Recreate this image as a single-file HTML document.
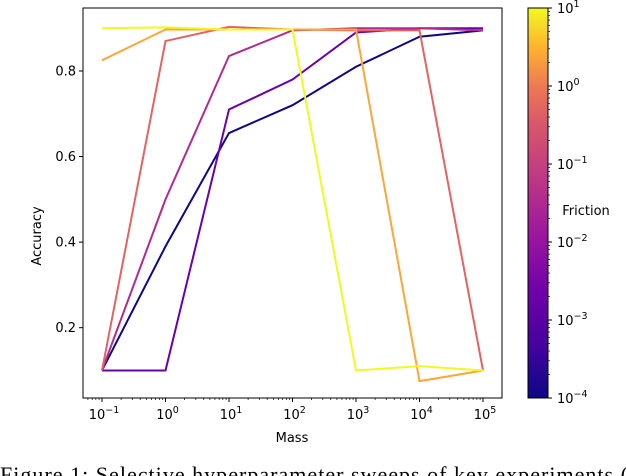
<!DOCTYPE html>
<html><head><meta charset="utf-8"><style>
body{margin:0;background:#fff;width:626px;height:476px;overflow:hidden;position:relative}
svg{position:absolute;left:0;top:0}
text{font-family:"DejaVu Sans","Liberation Sans",sans-serif;fill:#000}
</style></head><body>
<svg width="626" height="476">
<defs><linearGradient id="pl" x1="0" y1="1" x2="0" y2="0">
<stop offset="0" stop-color="#0d0887"/><stop offset="0.14" stop-color="#46039f"/><stop offset="0.28" stop-color="#7201a8"/><stop offset="0.42" stop-color="#9c179e"/><stop offset="0.56" stop-color="#bd3786"/><stop offset="0.70" stop-color="#d8576b"/><stop offset="0.80" stop-color="#ed7953"/><stop offset="0.90" stop-color="#fdb42f"/><stop offset="1" stop-color="#f0f921"/></linearGradient></defs>
<g id="plot"></g>
<rect x="83" y="8" width="419" height="390" fill="none" stroke="#000" stroke-width="1"/>
<text x="0" y="0" transform="translate(41,236) rotate(-90)" text-anchor="middle" font-size="13">Accuracy</text>
<text x="292" y="442" text-anchor="middle" font-size="13">Mass</text>
<rect x="528" y="8" width="20" height="390" fill="url(#pl)" stroke="#000" stroke-width="1"/>
<text x="586" y="215" font-size="13" text-anchor="middle">Friction</text>
<g id="cb"></g>
<text x="0" y="482" font-size="22" textLength="640" lengthAdjust="spacing" style="font-family:'Liberation Serif',serif">Figure 1: Selective hyperparameter sweeps of key experiments (b</text>
</svg>
<script>
const masses=[-1,0,1,2,3,4,5];
const frictionExp=[-4,-3,-2,-1,0,1];
const colors=["#0d0887","#6a00a8","#b12a90","#e16462","#fca636","#f0f921"];
const s1e4=[0.1,0.39,0.655,0.72,0.81,0.88,0.895];
const s1e3=[0.1,0.1,0.71,0.78,0.89,0.9,0.9];
const s1e2=[0.1,0.5,0.835,0.895,0.9,0.9,0.895];
const s1e1=[0.1,0.87,0.903,0.897,0.895,0.895,0.1];
const s1e0=[0.825,0.897,0.897,0.897,0.897,0.075,0.1];
const s1e10=[0.9,0.902,0.897,0.897,0.1,0.11,0.1];
const series=[s1e4,s1e3,s1e2,s1e1,s1e0,s1e10];
const yTicks=[0.2,0.4,0.6,0.8];
const ns="http://www.w3.org/2000/svg";
const X=e=>102+(e+1)*63.5;
const Y=v=>71+(0.8-v)*427.8;
const CB=e=>398-(e+4)*78;
const svg=document.querySelector('svg');
const g=document.getElementById('plot');
function mk(t,a,p){const el=document.createElementNS(ns,t);for(const k in a)el.setAttribute(k,a[k]);(p||svg).appendChild(el);return el;}
series.forEach((s,i)=>{
 const pl=mk('polyline',{points:s.map((v,j)=>X(masses[j])+','+Y(v)).join(' '),fill:'none',stroke:colors[i],'stroke-width':2},g);
 
 
});
yTicks.forEach(v=>{
 const t=mk('line',{x1:79,x2:83,y1:Y(v),y2:Y(v),stroke:'#000'});
 
 
 const l=mk('text',{x:76,y:Y(v)+4.5,'text-anchor':'end','font-size':13});
 l.textContent=v.toFixed(1);
 
 
});
function sup(x,y,base,exp,anchor){
 const l=mk('text',{x:x,y:y,'text-anchor':anchor,'font-size':13});
 l.innerHTML=base+'<tspan dy="-6" font-size="9.5">'+exp.replace('-','\u2212')+'</tspan>';
 return l;
}
masses.forEach(e=>{
 const t=mk('line',{x1:X(e),x2:X(e),y1:398,y2:402,stroke:'#000'});
 
 
 if(e<5)for(let k=2;k<10;k++){const xm=X(e+Math.log10(k));const m=mk('line',{x1:xm,x2:xm,y1:398,y2:400,stroke:'#000','stroke-width':0.7});}
 const l=sup(X(e)+2,419,'10',String(e),'middle');
 
 
});
for(let k=2;k<10;k++){const xm=X(-2+Math.log10(k));if(xm>83){const m=mk('line',{x1:xm,x2:xm,y1:398,y2:400,stroke:'#000','stroke-width':0.7});}}
for(let e=-4;e<=1;e++){
 const t=mk('line',{x1:548,x2:552,y1:CB(e),y2:CB(e),stroke:'#000'});
 
 
 if(e<1)for(let k=2;k<10;k++){const ym=CB(e+Math.log10(k));const m=mk('line',{x1:548,x2:550,y1:ym,y2:ym,stroke:'#000','stroke-width':0.7});}
 const l=sup(557,CB(e)+5,'10',String(e),'start');
 
 
}
</script>
</body></html>
